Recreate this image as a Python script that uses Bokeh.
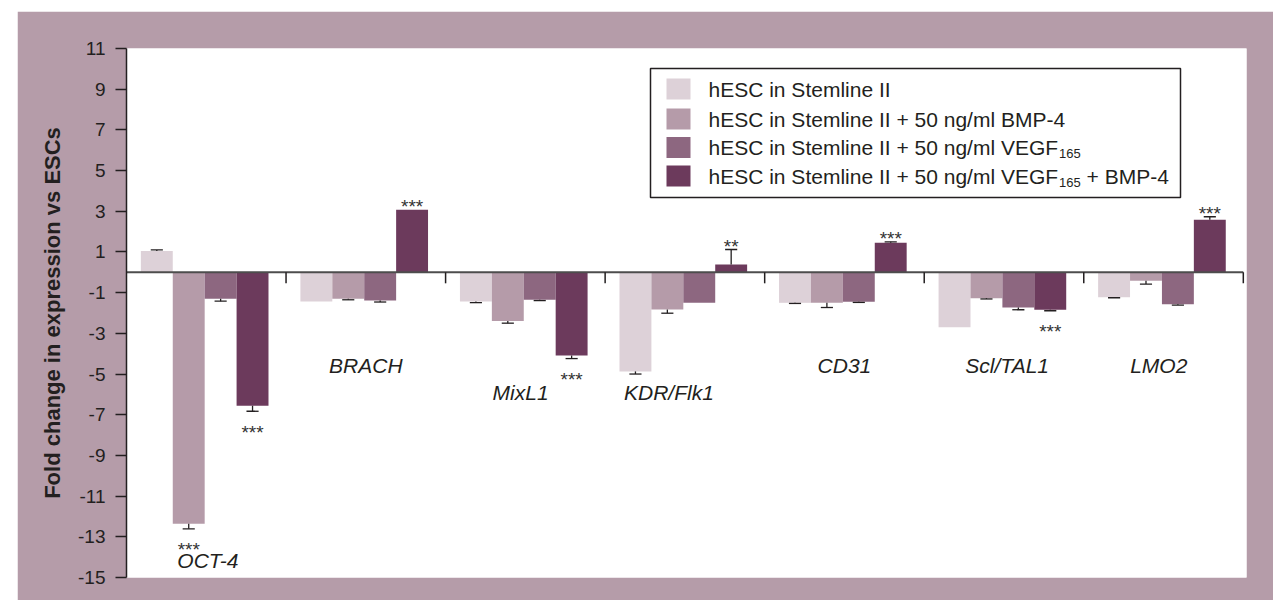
from bokeh.plotting import figure
from bokeh.models import Range1d, FixedTicker, PrintfTickFormatter
from bokeh.core.properties import value
from bokeh.embed import file_html
from bokeh.resources import INLINE

# ---------------- data ----------------
genes = ["OCT-4", "BRACH", "MixL1", "KDR/Flk1", "CD31", "Scl/TAL1", "LMO2"]
series_names = [
    "hESC in Stemline II",
    "hESC in Stemline II + 50 ng/ml BMP-4",
    "hESC in Stemline II + 50 ng/ml VEGF",
    "hESC in Stemline II + 50 ng/ml VEGF",
]
series_sub = ["", "", "165", "165"]
series_tail = ["", "", "", "+ BMP-4"]

stemline = [1.05, -1.43, -1.44, -4.87, -1.50, -2.70, -1.22]
stemline_err = [0.05, 0.0, 0.05, 0.13, 0.03, 0.0, 0.03]
bmp4 = [-12.36, -1.30, -2.39, -1.83, -1.50, -1.27, -0.42]
bmp4_err = [0.25, 0.05, 0.11, 0.18, 0.23, 0.04, 0.16]
vegf = [-1.30, -1.39, -1.35, -1.50, -1.45, -1.73, -1.57]
vegf_err = [0.12, 0.07, 0.04, 0.0, 0.03, 0.11, 0.04]
vegf_bmp4 = [-6.56, 3.07, -4.09, 0.38, 1.45, -1.84, 2.58]
vegf_bmp4_err = [0.27, 0.0, 0.15, 0.74, 0.05, 0.05, 0.15]

stars_stemline = ["", "", "", "", "", "", ""]
stars_bmp4 = ["***", "", "", "", "", "", ""]
stars_vegf = ["", "", "", "", "", "", ""]
stars_vegf_bmp4 = ["***", "***", "***", "**", "***", "***", "***"]

gene_label_x = [0.51, 1.50, 2.47, 3.40, 4.50, 5.52, 6.47]
gene_label_y = [-14.17, -4.56, -5.9, -5.9, -4.56, -4.56, -4.56]

y_ticks = [-15, -13, -11, -9, -7, -5, -3, -1, 1, 3, 5, 7, 9, 11]
y_label = "Fold change in expression vs ESCs"

# ---------------- style ----------------
colors = ["#ddd1d8", "#b59ba9", "#8d6780", "#6c3a5c"]
frame_bg = "#b59ca9"
FONT = "Liberation Sans"

# screenshot-pixel geometry
FIG_X, FIG_Y = 17, 11
FIG_W, FIG_H = 1256, 589
FRAME_L, FRAME_R, FRAME_T, FRAME_B = 126, 1246, 48, 577
X0, X1 = 0.0, 7.02
Y0, Y1 = -15.0, 11.0


def px_x(px):
    return X0 + (px - FRAME_L) / (FRAME_R - FRAME_L) * (X1 - X0)


def px_y(py):
    return Y1 - (py - FRAME_T) / (FRAME_B - FRAME_T) * (Y1 - Y0)


# Arial / Liberation Sans advance widths (per 1000 em)
W = {"h": 556, "E": 667, "S": 667, "C": 722, " ": 278, "i": 222, "n": 556, "t": 278,
     "e": 556, "m": 833, "l": 222, "I": 278, "+": 584, "5": 556, "0": 556, "g": 556,
     "/": 278, "V": 667, "F": 611, "G": 778, "B": 667, "M": 833, "P": 667, "-": 333,
     "4": 556, "1": 556, "6": 556}


def text_w(s, size):
    return sum(W.get(c, 556) for c in s) / 1000.0 * size


p = figure(width=FIG_W, height=FIG_H, x_range=Range1d(X0, X1), y_range=Range1d(Y0, Y1),
           x_axis_location=None, y_axis_location="left",
           output_backend="svg", toolbar_location=None,
           min_border_left=FRAME_L - FIG_X, min_border_right=FIG_X + FIG_W - FRAME_R,
           min_border_top=FRAME_T - FIG_Y, min_border_bottom=FIG_Y + FIG_H - FRAME_B,
           border_fill_color=frame_bg, background_fill_color="white", outline_line_color=None)
p.margin = (FIG_Y, 0, 0, FIG_X)
for g in p.grid:
    g.visible = False

ax = p.yaxis[0]
ax.ticker = FixedTicker(ticks=y_ticks)
ax.formatter = PrintfTickFormatter(format="%d")
ax.minor_tick_line_color = None
ax.major_tick_in = 0
ax.major_tick_out = 11
ax.major_tick_line_width = 1.5
ax.major_tick_line_color = "#231f20"
ax.axis_line_color = "#231f20"
ax.axis_line_width = 1.5
ax.major_label_text_font = FONT
ax.major_label_text_font_size = "19px"
ax.major_label_text_color = "#231f20"
ax.major_label_standoff = 10
ax.axis_label = y_label
ax.axis_label_text_font = FONT
ax.axis_label_text_font_style = "bold"
ax.axis_label_text_font_size = "22px"
ax.axis_label_text_color = "#231f20"
ax.axis_label_standoff = 10

# legend box
leg_l, leg_r, leg_t, leg_b = 650, 1180, 68, 197
p.quad(left=[px_x(leg_l)], right=[px_x(leg_r)], top=[px_y(leg_t)], bottom=[px_y(leg_b)],
       fill_color="white", line_color="#231f20", line_width=1.5)

# bars
series = [(stemline, stemline_err, stars_stemline),
          (bmp4, bmp4_err, stars_bmp4),
          (vegf, vegf_err, stars_vegf),
          (vegf_bmp4, vegf_bmp4_err, stars_vegf_bmp4)]
bar_w = 0.2
cap = 0.038
for k, (vals, errs, stars) in enumerate(series):
    xs = [i + 0.19 + 0.2 * k for i in range(len(genes))]
    p.vbar(x=xs, top=vals, bottom=0, width=bar_w, fill_color=colors[k], line_color=None)
    ex, ey0, ey1 = [], [], []
    for x, v, e in zip(xs, vals, errs):
        if e > 0:
            s = 1 if v >= 0 else -1
            ex.append(x)
            ey0.append(v)
            ey1.append(v + s * e)
    p.segment(x0=ex, y0=ey0, x1=ex, y1=ey1, line_color="#231f20", line_width=1.3)
    p.segment(x0=[x - cap for x in ex], y0=ey1, x1=[x + cap for x in ex], y1=ey1,
              line_color="#231f20", line_width=1.3)
    # significance stars
    up_x, up_y, up_t, dn_x, dn_y, dn_t = [], [], [], [], [], []
    for x, v, e, st in zip(xs, vals, errs, stars):
        if not st:
            continue
        if v >= 0:
            up_x.append(x); up_y.append(v + e); up_t.append(st)
        else:
            dn_x.append(x); dn_y.append(v - e); dn_t.append(st)
    p.text(x=up_x, y=up_y, text=up_t, text_align="center", text_baseline="alphabetic",
           y_offset=-3, text_font=value(FONT), text_font_size="19px", text_color="#333333")
    p.text(x=dn_x, y=dn_y, text=dn_t, text_align="center", text_baseline="alphabetic",
           y_offset=21, text_font=value(FONT), text_font_size="19px", text_color="#333333")

# zero baseline and group separators
n = len(genes)
p.segment(x0=[0], y0=[0], x1=[n], y1=[0], line_color="#4d4d4d", line_width=2)
sep_len = 11 / ((FRAME_B - FRAME_T) / (Y1 - Y0))
p.segment(x0=list(range(1, n + 1)), y0=[0] * n, x1=list(range(1, n + 1)),
          y1=[-sep_len] * n, line_color="#231f20", line_width=1.5)

# gene labels
p.text(x=gene_label_x, y=gene_label_y, text=genes, text_align="center", text_baseline="middle",
       text_font=value(FONT), text_font_style="italic", text_font_size="21px", text_color="#231f20")

# legend entries
row_y = [88.5, 118.5, 147, 175.5]
sw_x = 678
txt_x = 708
LF = 21
SF = 13
p.rect(x=[px_x(sw_x)] * 4, y=[px_y(r) for r in row_y], width=24, height=21,
       width_units="screen", height_units="screen", fill_color=colors, line_color=None)
p.text(x=[px_x(txt_x)] * 4, y=[px_y(r) for r in row_y], text=series_names,
       text_align="left", text_baseline="middle", text_font=value(FONT),
       text_font_size=f"{LF}px", text_color="#231f20")
for name, sub, tail, r in zip(series_names, series_sub, series_tail, row_y):
    if not sub:
        continue
    sx = txt_x + text_w(name, LF) + 1
    p.text(x=[px_x(sx)], y=[px_y(r)], text=[sub], text_align="left", text_baseline="middle",
           y_offset=6, text_font=value(FONT), text_font_size=f"{SF}px", text_color="#231f20")
    if tail:
        tx = sx + text_w(sub, SF) + text_w(" ", LF)
        p.text(x=[px_x(tx)], y=[px_y(r)], text=[tail], text_align="left", text_baseline="middle",
               text_font=value(FONT), text_font_size=f"{LF}px", text_color="#231f20")

open("out.html", "w").write(file_html(p, INLINE))
